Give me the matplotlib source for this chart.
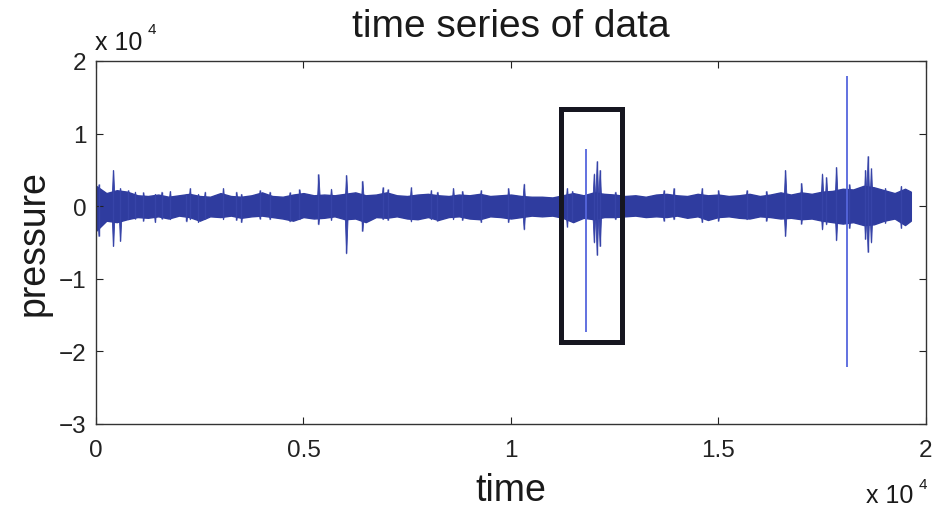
import matplotlib
matplotlib.use('Agg')
import matplotlib.pyplot as plt
from matplotlib.patches import Rectangle

plt.rcParams['font.family'] = ['Liberation Sans', 'DejaVu Sans']

# envelope of the dense pressure band, sampled every 250 time steps
band_t = list(range(0, 19750, 250)) + [19640]
band_hi = [2800, 1800, 2200, 2000, 1500, 1400, 1600, 1300, 1500, 1700,
           1400, 1300, 1800, 1400, 1300, 1500, 1900, 1400, 1300, 1600,
           1800, 1500, 1600, 1500, 1700, 1900, 1500, 1600, 1900, 1500,
           1400, 1600, 1700, 1500, 1400, 1600, 1500, 1700, 1400, 1500,
           1600, 1400, 1300, 1300, 1200, 1500, 1800, 1500, 1900, 1700,
           1600, 1400, 1500, 1300, 1600, 1700, 1500, 1400, 1700, 1500,
           1600, 1400, 1500, 1700, 1400, 1600, 1900, 1600, 1900, 1700,
           2000, 2100, 2400, 2300, 2800, 2600, 2200, 1800, 2400, 2000]
band_lo = [-3400, -2000, -2200, -1800, -1500, -1600, -1400, -1700, -1300, -1500,
           -2000, -1400, -1500, -1300, -1600, -1400, -1300, -1500, -1700, -2000,
           -1500, -1700, -1600, -1400, -1800, -1700, -2200, -1500, -1600, -1400,
           -1700, -1800, -1500, -1900, -1500, -1400, -1700, -1800, -1400, -1500,
           -1700, -1500, -1300, -1400, -1300, -1600, -2200, -1600, -1800, -1500,
           -1500, -1400, -1300, -1500, -1400, -1500, -1300, -1600, -1400, -1900,
           -1500, -1400, -1600, -1700, -1400, -1500, -1700, -1600, -1800, -1700,
           -2000, -2200, -2400, -2200, -2600, -2500, -2000, -1700, -2600, -2000]

# bursts sticking out of the band
burst_t = [60, 410, 580, 777, 937, 1138, 1418, 1578, 1779, 2179,
           2260, 2460, 2620, 3061, 3382, 3502, 3943, 4183, 4664, 4904,
           5360, 5665, 6030, 6420, 6907, 7027, 7589, 8070, 8230, 8606,
           8830, 9272, 9937, 10310, 11350, 11480, 12000, 12070, 12140, 12520,
           13680, 13920, 14600, 15000, 15680, 16160, 16610, 17000, 17500, 17600,
           17840, 18160, 18540, 18600, 18680, 19020, 19400]
burst_hi = [3000, 5000, 2500, 2200, 2000, 1900, 1700, 2000, 2100, 1700,
            2500, 1700, 2000, 2500, 2000, 1700, 2200, 2000, 1900, 2300,
            4400, 2400, 4300, 3500, 2600, 2300, 2600, 2200, 2000, 2500,
            2100, 2200, 2500, 3100, 2500, 2100, 4500, 6200, 5000, 2000,
            2200, 2500, 2500, 2200, 2200, 2100, 5000, 3200, 4500, 4000,
            5400, 3000, 5000, 6900, 5200, 2500, 2800]
burst_lo = [-4100, -5500, -4800, -1800, -1700, -2000, -2200, -1700, -1800, -2100,
            -1800, -2200, -1700, -1800, -1900, -2200, -1700, -1800, -2100, -1800,
            -2500, -1900, -6500, -3400, -1800, -1900, -2100, -1800, -2000, -1800,
            -1900, -2200, -2200, -3200, -2800, -2000, -5000, -6700, -5500, -1800,
            -2000, -1800, -2200, -2000, -1800, -2000, -4100, -2400, -3200, -2500,
            -4700, -3000, -4500, -6300, -5000, -2300, -3000]

# isolated tall spikes
spike_t = [11800, 18100]
spike_hi = [7900, 17900]
spike_lo = [-17300, -22200]

# highlighted window
box_t = [11200, 12690]
box_p = [-18730, 13360]

blue = '#2f3c9f'
half = 45  # half width of a burst at its base, in time steps

fig = plt.figure(figsize=(9.37, 5.10), dpi=100)
ax = fig.add_axes([0.1025, 0.1667, 0.8855, 0.7118])

for t, hi, lo in zip(burst_t, burst_hi, burst_lo):
    ax.fill_between([t - half, t, t + half], [0, lo, 0], [0, hi, 0],
                    color='#3744a8', linewidth=0.6, edgecolor='#3744a8')
ax.vlines(burst_t, burst_lo, burst_hi, color='#3744a8', linewidth=1.0)
ax.fill_between(band_t, band_lo, band_hi, color=blue, linewidth=1.0,
                edgecolor=blue)
ax.vlines(spike_t, spike_lo, spike_hi, color='#5566dd', linewidth=1.3)

ax.add_patch(Rectangle((box_t[0], box_p[0]), box_t[1] - box_t[0],
                       box_p[1] - box_p[0], fill=False,
                       edgecolor='#161620', linewidth=3.6, zorder=5))

ax.set_xlim(0, 20000)
ax.set_ylim(-30000, 20000)
ax.set_xticks([0, 5000, 10000, 15000, 20000])
ax.set_xticklabels(['0', '0.5', '1', '1.5', '2'])
ax.set_yticks([-30000, -20000, -10000, 0, 10000, 20000])
ax.set_yticklabels(['\u22123', '\u22122', '\u22121', '0', '1', '2'])
ax.tick_params(direction='in', length=5, width=0.8, colors='#222222',
               labelsize=17.5, top=True, right=True)
ax.tick_params(axis='x', pad=11)
ax.tick_params(axis='y', pad=7)
for s in ax.spines.values():
    s.set_color('#333333')
    s.set_linewidth(1.0)

ax.set_title('time series of data', fontsize=28, color='#1a1a1a', pad=18)
ax.set_xlabel('time', fontsize=27, color='#1a1a1a', labelpad=8)
ax.set_ylabel('pressure', fontsize=27, color='#1a1a1a', labelpad=5)

# exponent labels
fig.text(0.1014, 0.902, 'x 10', fontsize=18, color='#1a1a1a', va='baseline')
fig.text(0.158, 0.933, '4', fontsize=11, color='#1a1a1a', va='baseline')
fig.text(0.924, 0.014, 'x 10', fontsize=18, color='#1a1a1a', va='baseline')
fig.text(0.980, 0.042, '4', fontsize=11, color='#1a1a1a', va='baseline')

fig.savefig('out.png', dpi=100)
